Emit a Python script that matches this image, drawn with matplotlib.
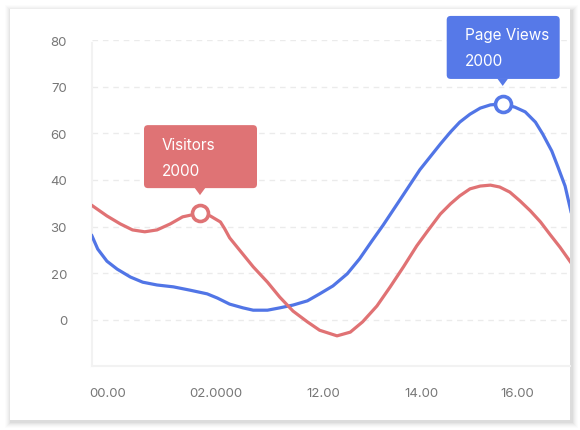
import matplotlib
matplotlib.use("Agg")
import matplotlib.pyplot as plt
from matplotlib.patches import FancyBboxPatch, Polygon
from matplotlib.transforms import Affine2D, ScaledTranslation

plt.rcParams['font.family'] = ['Inter', 'DejaVu Sans']

# data
x_labels = ['00.00', '02.0000', '12.00', '14.00', '16.00']
x_ticks = [0.0, 1.056, 2.103, 3.067, 4.0]
y_labels = ['0', '20', '30', '40', '60', '70', '80']
y_ticks = [0, 10, 20, 30, 40, 50, 60]

x_visitors = [-0.16, -0.01, 0.12, 0.24, 0.36, 0.48, 0.61, 0.73, 0.90, 1.00, 1.10, 1.14,
              1.19, 1.29, 1.42, 1.56, 1.68, 1.81, 1.95, 2.07, 2.24, 2.37, 2.49, 2.63,
              2.76, 2.89, 3.02, 3.12, 3.25, 3.35, 3.44, 3.54, 3.64, 3.74, 3.83, 3.93,
              4.03, 4.13, 4.23, 4.32, 4.42, 4.53]
visitors = [24.6, 22.3, 20.6, 19.3, 18.9, 19.3, 20.6, 22.1, 22.9, 22.3, 21.0, 19.6,
            17.6, 14.9, 11.4, 8.1, 4.9, 1.9, -0.4, -2.2, -3.4, -2.6, -0.4, 3.0,
            7.1, 11.4, 15.9, 18.9, 22.7, 24.9, 26.6, 28.1, 28.7, 28.9, 28.5, 27.4,
            25.5, 23.4, 21.0, 18.4, 15.6, 12.2]

x_pageviews = [-0.16, -0.10, -0.01, 0.09, 0.22, 0.34, 0.48, 0.64, 0.80, 0.97, 1.07, 1.19,
               1.32, 1.42, 1.56, 1.68, 1.81, 1.95, 2.07, 2.20, 2.34, 2.46, 2.58, 2.69,
               2.86, 3.05, 3.25, 3.35, 3.44, 3.54, 3.64, 3.74, 3.86, 3.98, 4.08, 4.18,
               4.25, 4.34, 4.40, 4.47, 4.53]
pageviews = [18.2, 15.2, 12.6, 10.9, 9.2, 8.1, 7.5, 7.1, 6.4, 5.6, 4.7, 3.4,
             2.6, 2.1, 2.1, 2.6, 3.2, 4.1, 5.6, 7.3, 9.9, 13.1, 16.9, 20.3,
             25.9, 32.2, 37.7, 40.3, 42.4, 44.1, 45.4, 46.1, 46.3, 45.6, 44.6, 42.4,
             39.9, 36.2, 32.8, 28.7, 23.0]

visitors_hover = 8     # index of highlighted point
pageviews_hover = 32

RED = '#e07274'
BLUE = '#5175e6'
RED_BOX = '#df7375'
BLUE_BOX = '#5679e8'

fig = plt.figure(figsize=(5.8, 4.31), dpi=100)
fig.patch.set_facecolor('white')

# card with soft shadow
W, H = 580, 431
cx0, cy0, cx1, cy1 = 10, 10, 570, 421
for i, a in enumerate([0.035, 0.03, 0.025, 0.02, 0.015, 0.01]):
    g = i + 1
    fig.patches.append(FancyBboxPatch(
        ((cx0 - g + 1) / W, (H - cy1 - g - 2) / H), (cx1 - cx0 + 2 * g + 1) / W, (cy1 - cy0 + 2 * g) / H,
        boxstyle='square,pad=0', transform=fig.transFigure, facecolor='black',
        edgecolor='none', alpha=a, zorder=0))
fig.patches.append(FancyBboxPatch(
    (cx0 / W, (H - cy1) / H), (cx1 - cx0) / W, (cy1 - cy0) / H,
    boxstyle='square,pad=0', transform=fig.transFigure, facecolor='white',
    edgecolor='none', zorder=1))

ax = fig.add_axes([92 / W, 64 / H, 478 / W, 326 / H])
ax.set_facecolor('none')
ax.set_zorder(2)

ax.plot(x_pageviews, pageviews, color=BLUE, lw=2.3, solid_capstyle='round',
        solid_joinstyle='round', zorder=3)
ax.plot(x_visitors, visitors, color=RED, lw=2.3, solid_capstyle='round',
        solid_joinstyle='round', zorder=3)

ax.set_xlim(-0.156, 4.518)
ax.set_ylim(-9.86, 60)
ax.set_xticks(x_ticks, x_labels)
ax.set_yticks(y_ticks, y_labels)
ax.tick_params(length=0, labelsize=9.5, colors='#777777')
ax.tick_params(axis='y', pad=18)
ax.tick_params(axis='x', pad=15)
ax.grid(axis='y', color='#ebebeb', lw=1, ls=(0, (4, 3.5)))
ax.grid(axis='x', visible=False)
for s in ['top', 'right']:
    ax.spines[s].set_visible(False)
for s in ['left', 'bottom']:
    ax.spines[s].set_color('#f2f2f2')
    ax.spines[s].set_linewidth(1.5)
ax.spines['left'].set_bounds(-9.86, 59.4)


def tooltip(px, py, color, title, value):
    # pixel offsets around the highlighted data point
    tr = Affine2D().scale(1 / fig.dpi) + fig.dpi_scale_trans + ScaledTranslation(px, py, ax.transData)
    ax.add_patch(FancyBboxPatch((-56, 25), 113, 63, boxstyle='round,pad=0,rounding_size=4',
                                transform=tr, facecolor=color, edgecolor='none',
                                clip_on=False, zorder=6))
    ax.add_patch(Polygon([(-5.5, 25.5), (5.5, 25.5), (0, 18)], closed=True, transform=tr,
                         facecolor=color, edgecolor='none', clip_on=False, zorder=6))
    ax.text(-38, 69, title, transform=tr, color='white', fontsize=11, va='center',
            ha='left', zorder=7, clip_on=False)
    ax.text(-38, 43, value, transform=tr, color='white', fontsize=11, va='center',
            ha='left', zorder=7, clip_on=False)
    ax.plot([px], [py], marker='o', ms=11.5, mew=2.6, mfc='white', mec=color, zorder=5,
            clip_on=False)


tooltip(x_visitors[visitors_hover], visitors[visitors_hover], RED_BOX, 'Visitors', '2000')
tooltip(x_pageviews[pageviews_hover], pageviews[pageviews_hover], BLUE_BOX, 'Page Views', '2000')

fig.savefig('out.png', dpi=100)
